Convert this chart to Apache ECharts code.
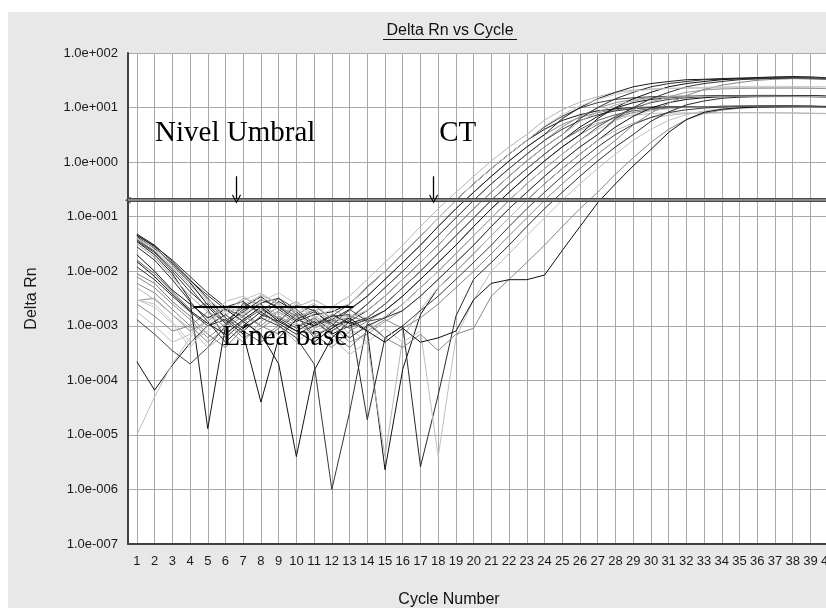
<!DOCTYPE html>
<html>
<head>
<meta charset="utf-8">
<title>Delta Rn vs Cycle</title>
<script src="https://cdn.jsdelivr.net/npm/echarts@6/dist/echarts.min.js"></script>
<style>
  html, body { margin: 0; padding: 0; background: #fff; }
  #wrap { position: relative; width: 826px; height: 608px; overflow: hidden; }
  #panel { position: absolute; left: 8px; top: 12px; right: 0; bottom: 0; background: #e8e8e8; }
  /* el grafico original esta recortado a la derecha: el lienzo es mas ancho que la ventana */
  #chart { position: absolute; left: 0; top: 0; width: 850px; height: 608px; }
</style>
</head>
<body>
<div id="wrap"><div id="panel"></div><div id="chart"></div></div>
<script>
// ciclos 1..40 (eje X)
const cycles = [1, 2, 3, 4, 5, 6, 7, 8, 9, 10, 11, 12, 13, 14, 15, 16, 17, 18, 19, 20,
  21, 22, 23, 24, 25, 26, 27, 28, 29, 30, 31, 32, 33, 34, 35, 36, 37, 38, 39, 40];

// Delta Rn de cada pocillo (un valor por ciclo)
const well01 = [4.0e-2, 2.4e-2, 1.2e-2, 5.5e-3, 2.8e-3, 1.6e-3, 2.4e-3, 3.6e-3, 2.6e-3, 1.5e-3,
  1.9e-3, 2.2e-3, 3.5e-3, 7.1e-3, 1.45e-2, 3.0e-2, 6.6e-2, 0.14, 0.28, 0.55,
  1.05, 1.9, 3.2, 5.9, 9.1, 12.6, 15.8, 19, 21, 21.9,
  22.4, 22.6, 22.8, 22.9, 23, 23, 23, 22.9, 22.8, 22.6];
const well02 = [4.6e-2, 2.8e-2, 1.3e-2, 6.2e-3, 2.4e-3, 1.2e-3, 2.2e-3, 3.4e-3, 2.0e-3, 1.2e-3,
  1.6e-3, 1.8e-3, 2.5e-3, 5.0e-3, 1.0e-2, 2.1e-2, 4.5e-2, 9.5e-2, 0.2, 0.4,
  0.76, 1.4, 2.5, 4.0, 5.8, 7.4, 8.7, 9.5, 10, 10.2,
  10.3, 10.4, 10.4, 10.5, 10.5, 10.5, 10.5, 10.4, 10.4, 10.3];
const well03 = [4.3e-2, 2.6e-2, 1.4e-2, 6.8e-3, 3.6e-3, 2.0e-3, 1.5e-3, 2.6e-3, 3.2e-3, 2.0e-3,
  1.1e-3, 1.5e-3, 2.5e-3, 5.2e-3, 1.0e-2, 2.1e-2, 4.4e-2, 9.5e-2, 0.2, 0.4,
  0.76, 1.4, 2.5, 4.4, 6.9, 9.8, 12.3, 14.1, 15.1, 15.8,
  16, 16.2, 16.3, 16.4, 16.4, 16.4, 16.4, 16.3, 16.2, 16];
const well04 = [7.9e-3, 5.0e-3, 2.5e-3, 1.3e-3, 6.0e-4, 1.1e-3, 1.8e-3, 1.0e-3, 7.0e-4, 1.3e-3,
  2.0e-3, 1.2e-3, 1.9e-3, 3.5e-3, 7.1e-3, 1.45e-2, 3.0e-2, 6.6e-2, 0.14, 0.28,
  0.55, 1.05, 1.9, 3.2, 4.9, 6.6, 8.1, 9.1, 9.8, 10,
  10.1, 10.2, 10.2, 10.2, 10.3, 10.3, 10.2, 10.2, 10.1, 10];
const well05 = [4.8e-2, 3.0e-2, 1.5e-2, 7.0e-3, 3.2e-3, 1.4e-3, 8.0e-4, 1.5e-3, 2.8e-3, 1.8e-3,
  1.0e-3, 1.3e-3, 2.0e-3, 3.5e-3, 7.1e-3, 1.45e-2, 3.0e-2, 6.6e-2, 0.14, 0.28,
  0.55, 1.05, 1.9, 3.2, 6.3, 10, 14.5, 19, 24, 27.5,
  30, 32.4, 33, 34, 34.7, 35, 35.2, 35.2, 35, 34];
const well06 = [2.9e-3, 3.2e-3, 1.6e-3, 8.0e-4, 1.2e-3, 2.2e-3, 1.4e-3, 6.0e-4, 1.0e-3, 1.7e-3,
  9.0e-4, 1.2e-3, 1.4e-3, 2.5e-3, 5.0e-3, 1.0e-2, 2.1e-2, 4.5e-2, 9.5e-2, 0.2,
  0.4, 0.76, 1.4, 2.5, 4.4, 6.9, 9.8, 12.3, 14.1, 15.1,
  15.8, 16, 16.1, 16.2, 16.2, 16.2, 16.1, 16, 15.9, 15.7];
const well07 = [3.8e-2, 2.3e-2, 1.1e-2, 5.0e-3, 2.0e-3, 6.0e-4, 1.2e-3, 2.0e-3, 1.4e-3, 9.0e-4,
  1.4e-3, 8.0e-4, 1.3e-3, 2.5e-3, 5.0e-3, 1.0e-2, 2.1e-2, 4.5e-2, 9.5e-2, 0.2,
  0.4, 0.76, 1.4, 2.5, 4.0, 5.8, 7.4, 8.7, 9.5, 10,
  10.2, 10.3, 10.4, 10.5, 10.6, 10.6, 10.6, 10.5, 10.5, 10.4];
const well08 = [4.5e-2, 2.9e-2, 1.6e-2, 8.0e-3, 4.0e-3, 2.2e-3, 2.8e-3, 1.6e-3, 1.2e-3, 2.4e-3,
  1.9e-3, 1.0e-3, 1.2e-3, 1.9e-3, 3.5e-3, 7.1e-3, 1.45e-2, 3.0e-2, 6.6e-2, 0.14,
  0.28, 0.55, 1.05, 1.9, 3.2, 6.3, 10, 14.5, 19, 24,
  27.5, 30, 32.4, 33, 33.5, 33.8, 34, 34, 33.6, 33];
const well09 = [2.2e-4, 6.6e-5, 1.9e-4, 4.8e-4, 1.0e-3, 1.3e-3, 7.0e-4, 4.0e-5, 6.0e-4, 1.3e-3,
  1.0e-3, 1.6e-3, 1.1e-3, 1.4e-3, 2.5e-3, 5.0e-3, 1.0e-2, 2.1e-2, 4.5e-2, 9.5e-2,
  0.2, 0.4, 0.76, 1.4, 2.5, 4.4, 6.9, 9.8, 12.3, 14.1,
  15.1, 15.8, 16.2, 16.5, 16.6, 16.7, 16.7, 16.6, 16.5, 16.2];
const well10 = [1.0e-5, 5.0e-5, 2.0e-4, 6.0e-4, 1.5e-3, 1.0e-3, 1.6e-3, 3.8e-3, 2.4e-3, 1.4e-3,
  8.0e-4, 1.1e-3, 1.6e-3, 1.4e-3, 2.5e-3, 5.0e-3, 1.0e-2, 2.1e-2, 4.5e-2, 9.5e-2,
  0.2, 0.4, 0.76, 1.4, 2.5, 3.8, 5.2, 6.5, 7.2, 7.8,
  7.9, 8.0, 8.0, 8.1, 8.1, 8.1, 8.0, 8.0, 7.9, 7.8];
const well11 = [9.0e-3, 6.0e-3, 2.8e-3, 1.5e-3, 7.0e-4, 4.0e-4, 9.0e-4, 1.4e-3, 2.2e-3, 1.5e-3,
  7.0e-4, 9.0e-4, 1.5e-3, 1.2e-3, 1.9e-3, 3.5e-3, 7.1e-3, 1.45e-2, 3.0e-2, 6.6e-2,
  0.14, 0.28, 0.55, 1.05, 1.9, 3.2, 4.9, 6.6, 8.1, 9.1,
  9.8, 10.1, 10.3, 10.5, 10.6, 10.7, 10.7, 10.6, 10.5, 10.4];
const well12 = [3.5e-2, 2.0e-2, 9.0e-3, 3.0e-3, 1.3e-5, 1.0e-3, 2.0e-3, 2.5e-3, 1.3e-3, 8.0e-4,
  1.2e-3, 7.0e-4, 1.0e-3, 1.3e-3, 1.9e-3, 3.5e-3, 7.1e-3, 1.45e-2, 3.0e-2, 6.6e-2,
  0.14, 0.28, 0.55, 1.05, 1.9, 3.2, 6.3, 10, 14.5, 19,
  24, 27.5, 30, 32.4, 34, 35.5, 36.5, 37, 36.5, 35];
const well13 = [1.3e-3, 7.0e-4, 3.5e-4, 2.0e-4, 4.0e-4, 1.0e-3, 2.6e-3, 1.8e-3, 3.2e-3, 1.6e-3,
  6.0e-4, 1.0e-3, 2.0e-3, 1.2e-3, 1.4e-3, 2.5e-3, 5.0e-3, 1.0e-2, 2.1e-2, 4.5e-2,
  9.5e-2, 0.2, 0.4, 0.76, 1.4, 2.5, 4.4, 6.9, 9.8, 12.3,
  14.1, 15.1, 15.8, 16.2, 16.4, 16.5, 16.5, 16.5, 16.3, 16];
const well14 = [3.0e-3, 2.5e-3, 1.2e-3, 5.0e-4, 8.0e-4, 1.5e-3, 3.0e-3, 4.0e-3, 2.5e-3, 1.8e-3,
  2.6e-3, 1.4e-3, 7.0e-4, 9.0e-4, 1.5e-3, 2.5e-3, 5.0e-3, 1.0e-2, 2.1e-2, 4.5e-2,
  9.5e-2, 0.2, 0.4, 0.76, 1.4, 2.5, 4.0, 5.8, 7.4, 8.7,
  9.5, 10, 10.3, 10.5, 10.6, 10.7, 10.7, 10.6, 10.5, 10.3];
const well15 = [3.2e-2, 1.8e-2, 8.0e-3, 3.5e-3, 1.8e-3, 9.0e-4, 5.0e-4, 1.2e-3, 1.9e-3, 2.8e-3,
  1.5e-3, 1.0e-3, 5.0e-4, 7.0e-4, 1.2e-3, 1.9e-3, 3.5e-3, 7.1e-3, 1.45e-2, 3.0e-2,
  6.6e-2, 0.14, 0.28, 0.55, 1.05, 1.9, 3.2, 5.9, 9.1, 12.6,
  15.8, 19, 21, 21.9, 22.4, 22.6, 22.7, 22.7, 22.5, 22.2];
const well16 = [2.0e-2, 1.0e-2, 4.5e-3, 2.5e-3, 1.4e-3, 2.0e-3, 1.2e-3, 7.0e-4, 2.0e-4, 4.0e-6,
  1.5e-4, 6.0e-4, 1.2e-3, 8.0e-4, 2.3e-6, 1.6e-4, 1.6e-3, 5.0e-3, 1.0e-2, 2.1e-2,
  4.5e-2, 9.5e-2, 0.2, 0.4, 0.76, 1.4, 2.5, 4.4, 6.9, 9.8,
  12.3, 14.1, 15.1, 15.8, 16.1, 16.3, 16.4, 16.4, 16.2, 16];
const well17 = [5.0e-3, 3.0e-3, 1.6e-3, 9.0e-4, 4.0e-4, 7.0e-4, 1.3e-3, 2.0e-3, 1.0e-3, 5.0e-4,
  9.0e-4, 1.6e-3, 9.0e-4, 5.0e-4, 4.0e-6, 6.0e-4, 2.0e-3, 5.0e-3, 1.0e-2, 2.1e-2,
  4.5e-2, 9.5e-2, 0.2, 0.4, 0.76, 1.4, 2.5, 3.8, 5.2, 6.5,
  7.2, 7.8, 7.9, 8.0, 8.0, 8.0, 8.0, 7.9, 7.8, 7.7];
const well18 = [1.2e-2, 7.0e-3, 3.5e-3, 1.8e-3, 1.0e-3, 1.6e-3, 9.0e-4, 1.4e-3, 1.0e-3, 6.0e-4,
  2.0e-4, 1.0e-6, 2.6e-5, 1.1e-3, 6.0e-4, 1.0e-3, 1.9e-3, 3.5e-3, 7.1e-3, 1.45e-2,
  3.0e-2, 6.6e-2, 0.14, 0.28, 0.55, 1.05, 1.9, 3.2, 4.9, 6.6,
  8.1, 9.1, 9.8, 10.2, 10.5, 10.7, 10.8, 10.8, 10.7, 10.5];
const well19 = [2.5e-3, 1.5e-3, 8.0e-4, 1.0e-3, 1.8e-3, 1.2e-3, 6.0e-4, 9.0e-4, 1.5e-3, 1.0e-3,
  1.3e-3, 7.0e-4, 4.0e-4, 8.0e-4, 1.3e-3, 9.0e-4, 1.4e-3, 2.5e-3, 5.0e-3, 1.0e-2,
  2.1e-2, 4.5e-2, 9.5e-2, 0.2, 0.4, 0.76, 1.4, 2.5, 4.8, 7.9,
  12, 16.6, 21.4, 25.7, 28.8, 31.6, 33, 34, 34.5, 34];
const well20 = [2.8e-2, 1.6e-2, 7.0e-3, 2.8e-3, 1.2e-3, 5.0e-4, 1.0e-3, 1.8e-3, 1.1e-3, 7.0e-4,
  1.0e-3, 1.5e-3, 1.6e-3, 1.9e-5, 6.0e-4, 1.0e-3, 2.6e-6, 5.4e-5, 1.5e-3, 7.1e-3,
  1.45e-2, 3.0e-2, 6.6e-2, 0.14, 0.28, 0.55, 1.05, 1.9, 3.2, 5.6,
  8.3, 11.2, 13.2, 14.8, 15.5, 15.8, 15.9, 15.9, 15.8, 15.6];
const well21 = [1.8e-3, 1.0e-3, 5.0e-4, 7.0e-4, 1.2e-3, 2.8e-3, 3.5e-3, 2.2e-3, 1.4e-3, 2.6e-3,
  1.3e-3, 6.0e-4, 3.0e-4, 5.0e-4, 9.0e-4, 5.0e-4, 8.0e-4, 4.0e-6, 6.0e-4, 3.0e-3,
  1.0e-2, 2.1e-2, 4.5e-2, 9.5e-2, 0.2, 0.4, 0.76, 1.4, 2.5, 4.0,
  5.8, 7.4, 8.7, 9.5, 10, 10.2, 10.3, 10.3, 10.2, 10];
const well22 = [6.0e-3, 4.0e-3, 2.0e-3, 1.0e-3, 5.0e-4, 9.0e-4, 1.5e-3, 1.0e-3, 1.8e-3, 1.1e-3,
  7.0e-4, 4.0e-4, 8.0e-4, 1.2e-3, 6.0e-4, 4.0e-4, 7.0e-4, 3.5e-4, 7.0e-4, 9.0e-4,
  3.5e-3, 7.1e-3, 1.45e-2, 3.0e-2, 6.6e-2, 0.14, 0.28, 0.6, 1.2, 2.3,
  4.0, 6.0, 7.8, 9.0, 9.7, 10.1, 10.3, 10.4, 10.4, 10.3];
const well23 = [1.5e-2, 8.0e-3, 3.8e-3, 1.9e-3, 1.1e-3, 7.0e-4, 1.3e-3, 2.2e-3, 1.2e-3, 8.0e-4,
  5.0e-4, 9.0e-4, 1.4e-3, 8.0e-4, 5.0e-4, 9.0e-4, 5.0e-4, 6.0e-4, 8.0e-4, 3.0e-3,
  6.0e-3, 7.0e-3, 7.0e-3, 8.5e-3, 2.4e-2, 6.6e-2, 0.18, 0.4, 0.85, 1.7,
  3.5, 6.0, 8.2, 9.3, 9.9, 10.2, 10.3, 10.4, 10.4, 10.3];
const well24 = [4.0e-2, 2.7e-2, 1.3e-2, 6.5e-3, 3.0e-3, 1.8e-3, 3.2e-3, 2.4e-3, 1.6e-3, 2.2e-3,
  3.0e-3, 2.0e-3, 1.4e-3, 1.9e-3, 3.5e-3, 7.1e-3, 1.45e-2, 3.0e-2, 6.6e-2, 0.14,
  0.28, 0.55, 1.05, 1.9, 3.2, 5.6, 8.3, 11.2, 13.2, 14.8,
  15.5, 15.8, 16, 16.1, 16.2, 16.2, 16.2, 16.1, 16, 15.8];
const well25 = [3.6e-2, 2.2e-2, 1.0e-2, 4.2e-3, 2.2e-3, 1.1e-3, 1.8e-3, 3.0e-3, 2.2e-3, 1.3e-3,
  1.8e-3, 1.1e-3, 6.0e-4, 1.0e-3, 1.4e-3, 1.9e-3, 3.5e-3, 7.1e-3, 1.45e-2, 3.0e-2,
  6.6e-2, 0.14, 0.28, 0.55, 1.05, 1.9, 3.2, 6.3, 10, 14.5,
  19, 24, 27.5, 30, 32.4, 33.5, 34.5, 35, 35, 34.5];
const well26 = [1.6e-2, 9.0e-3, 4.2e-3, 2.0e-3, 2.6e-3, 1.4e-3, 8.0e-4, 5.0e-4, 9.0e-4, 1.6e-3,
  2.4e-3, 1.3e-3, 9.0e-4, 1.4e-3, 2.5e-3, 5.0e-3, 1.0e-2, 2.1e-2, 4.5e-2, 9.5e-2,
  0.2, 0.4, 0.76, 1.4, 2.5, 4.0, 5.8, 7.4, 8.7, 9.5,
  10, 10.2, 10.4, 10.5, 10.6, 10.6, 10.6, 10.5, 10.4, 10.2];
const well27 = [3.0e-3, 2.2e-3, 1.1e-3, 4.0e-4, 1.0e-3, 2.4e-3, 1.6e-3, 2.8e-3, 4.0e-3, 2.5e-3,
  1.4e-3, 2.0e-3, 2.5e-3, 5.0e-3, 1.0e-2, 2.1e-2, 4.5e-2, 9.5e-2, 0.2, 0.4,
  0.76, 1.4, 2.5, 4.6, 7.4, 10.7, 14.1, 17.4, 20, 21.4,
  22.4, 23, 23.5, 24, 24.3, 24.5, 24.5, 24.4, 24.2, 24];

const wells = [well01, well02, well03, well04, well05, well06, well07, well08, well09,
  well10, well11, well12, well13, well14, well15, well16, well17, well18, well19,
  well20, well21, well22, well23, well24, well25, well26, well27];

// tonos de gris de cada curva
const wellColors = ['#b5b5b5', '#151515', '#3c3c3c', '#8a8a8a', '#1a1a1a', '#909090', '#404040',
  '#2c2c2c', '#111111', '#bdbdbd', '#7a7a7a', '#161616', '#454545', '#c4c4c4', '#999999',
  '#121212', '#b8b8b8', '#383838', '#858585', '#2a2a2a', '#c0c0c0', '#888888', '#101010',
  '#b0b0b0', '#333333', '#606060', '#c8c8c8'];

// nivel umbral y linea base
const threshold = 0.2;
const baselineCycles = [4.2, 13.2];
const baselineLevel = [2.2e-3, 2.2e-3];

// anotaciones (en unidades de datos)
const arrowCycles = [6.62, 17.74];
const arrowFrom = 0.55;
const arrowTo = 0.21;
const notes = ['Nivel Umbral', 'CT', 'Línea base'];
const noteCycles = [6.55, 19.1, 9.35];
const noteValues = [3.3, 3.3, 6.0e-4];

const xAxisMin = 0.5;
const xAxisMax = 40.5;

const sans = '"Liberation Sans", Arial, sans-serif';
const serif = '"Liberation Serif", "Times New Roman", serif';
const chevron = 'path://M50,0 L100,88 L90,96 L50,24 L10,96 L0,88 Z';

const chart = echarts.init(document.getElementById('chart'));

function expLabel(v) {
  const e = Math.round(Math.log10(v));
  return '1.0e' + (e < 0 ? '-' : '+') + String(Math.abs(e)).padStart(3, '0');
}

const wellSeries = wells.map((w, i) => ({
  type: 'line',
  data: w.map((v, k) => [cycles[k], v]),
  symbol: 'none',
  showSymbol: false,
  silent: true,
  lineStyle: { width: 1, color: wellColors[i] },
  itemStyle: { color: wellColors[i] },
  z: 2
}));

const arrowLines = arrowCycles.map(c => [
  { coord: [c, arrowFrom], symbol: 'none', lineStyle: { color: '#000', width: 1.3, type: 'solid' } },
  { coord: [c, arrowTo], symbol: chevron, symbolSize: [9, 9] }
]);

const annotationSeries = {
  type: 'line',
  data: baselineCycles.map((c, i) => [c, baselineLevel[i]]),
  symbol: 'none',
  silent: true,
  lineStyle: { width: 2, color: '#000' },
  z: 10,
  markLine: {
    silent: true,
    animation: false,
    symbol: ['none', 'none'],
    label: { show: false },
    data: [
      [
        { coord: [xAxisMin, threshold], symbol: chevron, symbolSize: [7, 6],
          lineStyle: { color: '#4a4a4a', width: 4, type: 'solid' } },
        { coord: [xAxisMax, threshold], symbol: 'none' }
      ],
      [
        { coord: [xAxisMin, threshold], symbol: 'none',
          lineStyle: { color: '#9c9c9c', width: 1.5, type: 'solid' } },
        { coord: [xAxisMax, threshold], symbol: 'none' }
      ]
    ].concat(arrowLines)
  },
  markPoint: {
    silent: true,
    animation: false,
    symbol: 'circle',
    symbolSize: 0,
    label: {
      show: true,
      position: 'inside',
      formatter: '{b}',
      fontFamily: serif,
      fontSize: 29,
      color: '#000'
    },
    data: notes.map((n, i) => ({ name: n, coord: [noteCycles[i], noteValues[i]] }))
  }
};

chart.setOption({
  animation: false,
  backgroundColor: 'transparent',
  grid: {
    left: 128, top: 53, width: 709, height: 491,
    show: true, backgroundColor: '#fff', borderWidth: 0
  },
  xAxis: {
    type: 'value',
    min: xAxisMin,
    max: xAxisMax,
    axisLine: { show: true, onZero: false, lineStyle: { color: '#404040', width: 2 } },
    axisTick: { show: false, customValues: cycles },
    axisLabel: { customValues: cycles, color: '#1a1a1a', fontFamily: sans, fontSize: 13, margin: 11 },
    splitLine: { show: true, lineStyle: { color: '#a8a8a8', width: 1 } }
  },
  yAxis: {
    type: 'log',
    logBase: 10,
    min: 1e-7,
    max: 100,
    splitNumber: 9,
    axisLine: { show: true, lineStyle: { color: '#404040', width: 2 } },
    axisTick: { show: false },
    axisLabel: { formatter: expLabel, color: '#1a1a1a', fontFamily: sans, fontSize: 13, margin: 10 },
    splitLine: { show: true, lineStyle: { color: '#a8a8a8', width: 1 } },
    name: 'Delta Rn',
    nameLocation: 'middle',
    nameGap: 88,
    nameRotate: 90,
    nameTextStyle: { fontFamily: sans, fontSize: 16, color: '#1a1a1a' }
  },
  graphic: [
    { type: 'text', x: 450, y: 31, z: 20,
      style: { text: 'Delta Rn vs Cycle', font: '16px ' + sans, fill: '#111',
        textAlign: 'center', textVerticalAlign: 'middle', align: 'center', verticalAlign: 'middle' } },
    { type: 'line', z: 20, shape: { x1: 383, y1: 39.5, x2: 517, y2: 39.5 },
      style: { stroke: '#111', lineWidth: 1 } },
    { type: 'text', x: 449, y: 600, z: 20,
      style: { text: 'Cycle Number', font: '16px ' + sans, fill: '#111',
        textAlign: 'center', textVerticalAlign: 'middle', align: 'center', verticalAlign: 'middle' } }
  ],
  series: wellSeries.concat([annotationSeries])
});
</script>
</body>
</html>
